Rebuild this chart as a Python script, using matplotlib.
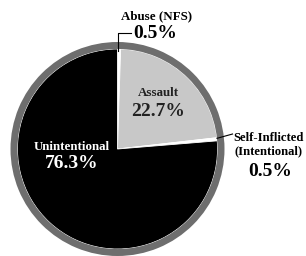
import matplotlib
matplotlib.use("Agg")
import matplotlib.pyplot as plt
from matplotlib.patches import Wedge

# slices, clockwise from the top
labels = ["Abuse (NFS)", "Assault", "Self-Inflicted\n(Intentional)", "Unintentional"]
values = [0.5, 22.7, 0.5, 76.3]
pct_text = ["0.5%", "22.7%", "0.5%", "76.3%"]
colors = ["white", "#c8c8c8", "white", "black"]

plt.rcParams['font.family'] = ['Liberation Serif', 'DejaVu Serif']
plt.rcParams['font.weight'] = 'bold'

fig = plt.figure(figsize=(3.06, 2.56), dpi=100)
ax = fig.add_axes([0, 0, 1, 1])

r_in = 0.935
ax.pie(values, colors=colors, startangle=90, counterclock=False, radius=r_in,
       wedgeprops=dict(edgecolor="white", linewidth=0.6))
ax.add_patch(Wedge((0, 0), 1.0, 0, 360, width=1.0 - r_in, facecolor="#6e6e6e", edgecolor="none"))

ax.set_xlim(-117.5 / 107, (306 - 117.5) / 107)
ax.set_ylim((149 - 256) / 107, 149 / 107)
ax.set_aspect("equal")
ax.axis("off")

small = 9.4
big = 14

# Abuse (NFS)
ax.text(0.369, 1.238, labels[0], ha="center", va="center", fontsize=small, color="black")
ax.text(0.350, 1.075, pct_text[0], ha="center", va="center", fontsize=big, color="black")
ax.plot([0.008, 0.008, 0.126], [0.92, 1.084, 1.084], color="black", lw=0.8)

# Assault
ax.text(0.379, 0.523, labels[1], ha="center", va="center", fontsize=small, color="#222222")
ax.text(0.379, 0.346, pct_text[1], ha="center", va="center", fontsize=big, color="#222222")

# Self-Inflicted
ax.text(1.41, 0.042, labels[2], ha="center", va="center", fontsize=9.1, color="black",
        linespacing=1.1)
ax.text(1.43, -0.206, pct_text[2], ha="center", va="center", fontsize=big, color="black")
ax.plot([0.93, 1.075], [0.10, 0.14], color="black", lw=0.8)

# Unintentional
ax.text(-0.425, 0.019, labels[3], ha="center", va="center", fontsize=small, color="white")
ax.text(-0.425, -0.140, pct_text[3], ha="center", va="center", fontsize=big, color="white")

plt.savefig("out.png", dpi=100)
